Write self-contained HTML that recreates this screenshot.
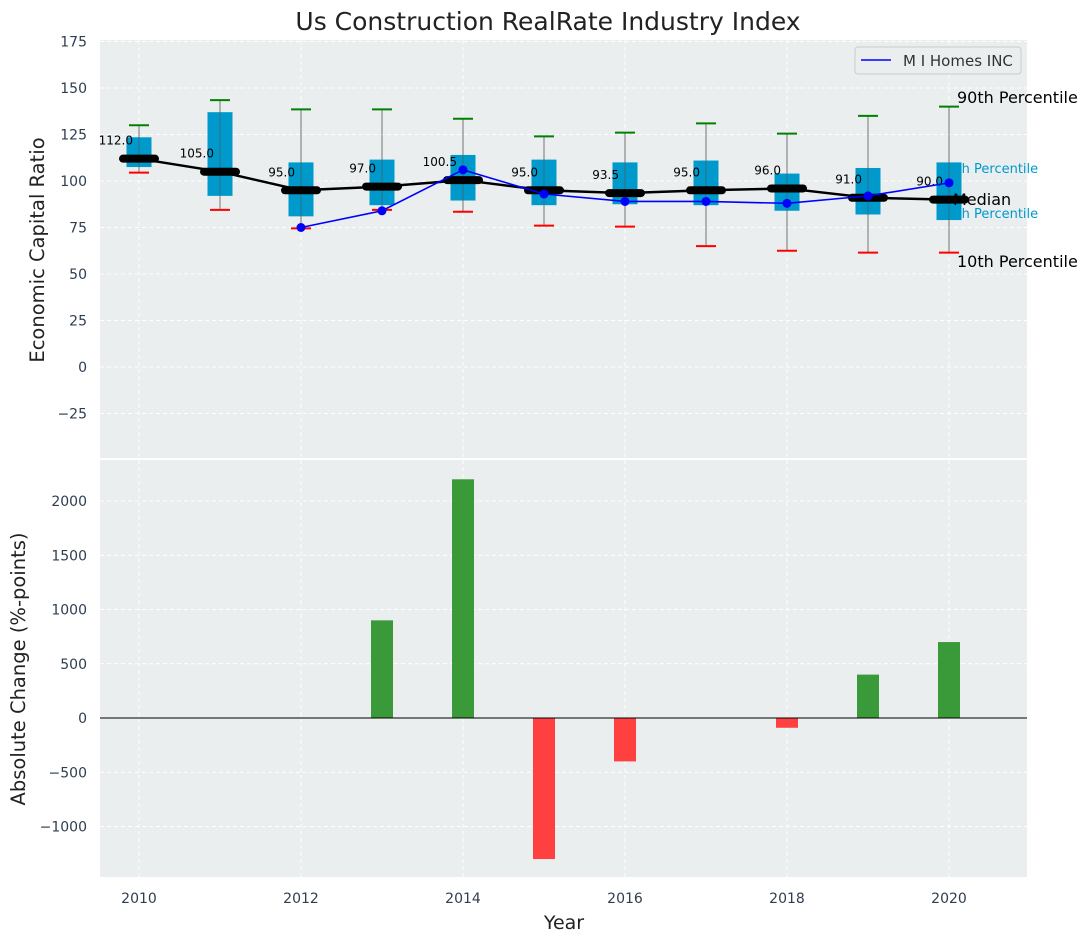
<!DOCTYPE html>
<html><head><meta charset="utf-8"><style>
body{margin:0;background:#fff;}
svg{display:block;font-family:"DejaVu Sans","Liberation Sans",sans-serif;}
</style></head><body>
<svg id="c" width="1092" height="942"></svg>
<script>
const years=[2010,2011,2012,2013,2014,2015,2016,2017,2018,2019,2020];
const p90=[130,143.5,138.5,138.5,133.5,124,126,131,125.5,135,140];
const p75=[123.5,137,110,111.5,114,111.5,110,111,104,107,110];
const p25=[107.5,92,81,87,89.5,87,87.5,87,84,82,79];
const p10=[104.5,84.5,74.5,84.5,83.5,76,75.5,65,62.5,61.5,61.5];
const medians=[112,105,95,97,100.5,95,93.5,95,96,91,90];
const miYears=[2012,2013,2014,2015,2016,2017,2018,2019,2020];
const miValues=[75,84,106,93,89,89,88,92,99];
const barYears=[2013,2014,2015,2016,2018,2019,2020];
const barValues=[900,2200,-1300,-400,-90,400,700];
const yTicksTop=[-25,0,25,50,75,100,125,150,175];
const yTicksBot=[-1000,-500,0,500,1000,1500,2000];
const xTicks=[2010,2012,2014,2016,2018,2020];

const NS="http://www.w3.org/2000/svg";
const svg=document.getElementById('c');
function el(t,a,p){const e=document.createElementNS(NS,t);for(const k in a)e.setAttribute(k,a[k]);(p||svg).appendChild(e);return e;}
const X=v=>139+(v-2010)*81;
const YT=v=>367-v*1.86;
const YB=v=>718-v*0.1085;
const L=100,R=1027;

let e=el('rect',{x:L,y:40,width:R-L,height:418,fill:'#eaeeee'});

e=el('rect',{x:L,y:460,width:R-L,height:417,fill:'#eaeeee'});


for(const t of xTicks){
  el('line',{x1:X(t),x2:X(t),y1:40,y2:458,stroke:'#fff','stroke-dasharray':'4,3','stroke-width':1});
  el('line',{x1:X(t),x2:X(t),y1:460,y2:877,stroke:'#fff','stroke-dasharray':'4,3','stroke-width':1});
  e=el('text',{x:X(t),y:903,'text-anchor':'middle','font-size':14,fill:'#2e3e50'});e.textContent=t;
  
}
for(const t of yTicksTop){
  el('line',{x1:L,x2:R,y1:YT(t),y2:YT(t),stroke:'#fff','stroke-dasharray':'4,3'});
  e=el('text',{x:87,y:YT(t)+5,'text-anchor':'end','font-size':14,fill:'#2e3e50'});e.textContent=t<0?'\u2212'+(-t):t;
  
}
for(const t of yTicksBot){
  el('line',{x1:L,x2:R,y1:YB(t),y2:YB(t),stroke:'#fff','stroke-dasharray':'4,3'});
  e=el('text',{x:87,y:YB(t)+5,'text-anchor':'end','font-size':14,fill:'#2e3e50'});e.textContent=t<0?'\u2212'+(-t):t;
  
}

function ann(txt,x,y,sz,col,name){const t=el('text',{x:x,y:y,'font-size':sz,fill:col});t.textContent=txt;}
ann('75th Percentile',940,173,13,'#0099cc','p75-annotation');
ann('25th Percentile',940,218,13,'#0099cc','p25-annotation');

years.forEach((y,i)=>{
  const x=X(y);
  let w=el('line',{x1:x,x2:x,y1:YT(p90[i]),y2:YT(p10[i]),stroke:'#777','stroke-width':1});
  
  let b=el('rect',{x:x-12.5,y:YT(p75[i]),width:25,height:YT(p25[i])-YT(p75[i]),fill:'#0099cc'});
  
  el('line',{x1:x,x2:x,y1:YT(p75[i]),y2:YT(p25[i]),stroke:'#555','stroke-width':1,opacity:0.6});
  let c=el('line',{x1:x-10,x2:x+10,y1:YT(p90[i]),y2:YT(p90[i]),stroke:'green','stroke-width':2});
  
  c=el('line',{x1:x-10,x2:x+10,y1:YT(p10[i]),y2:YT(p10[i]),stroke:'red','stroke-width':2});
  
});
let mp=el('polyline',{points:years.map((y,i)=>X(y)+','+YT(medians[i])).join(' '),fill:'none',stroke:'#000','stroke-width':2.5});

years.forEach((y,i)=>{
  let m=el('line',{x1:X(y)-16,x2:X(y)+16,y1:YT(medians[i]),y2:YT(medians[i]),stroke:'#000','stroke-width':8,'stroke-linecap':'round'});
  
  let t=el('text',{x:X(y)-6,y:YT(medians[i])-14,'text-anchor':'end','font-size':12,fill:'#000'});t.textContent=medians[i].toFixed(1);
  
});
let ml=el('polyline',{points:miYears.map((y,i)=>X(y)+','+YT(miValues[i])).join(' '),fill:'none',stroke:'blue','stroke-width':1.6});

miYears.forEach((y,i)=>{
  let p=el('circle',{cx:X(y),cy:YT(miValues[i]),r:4.5,fill:'blue'});
  
});
ann('90th Percentile',957,103,16,'#000','p90-annotation');
ann('Median',953,205,16,'#000','median-annotation');
ann('10th Percentile',957,267,16,'#000','p10-annotation');

let lg=el('g',{});
el('rect',{x:855,y:47,width:166,height:27,rx:3,fill:'#eaeeee',stroke:'#ccc'},lg);
el('line',{x1:861,x2:891,y1:60,y2:60,stroke:'blue','stroke-width':1.6},lg);
let lt=el('text',{x:903,y:66,'font-size':15,fill:'#333'},lg);lt.textContent='M I Homes INC';

barYears.forEach((y,i)=>{
  const v=barValues[i];
  let r=el('rect',{x:X(y)-11,y:Math.min(YB(v),YB(0)),width:22,height:Math.abs(YB(v)-YB(0)),fill:v>=0?'#3a9a3a':'#ff4040'});
  
});
el('line',{x1:L,x2:R,y1:YB(0),y2:YB(0),stroke:'#000','stroke-width':1});

let t=el('text',{x:548,y:30,'text-anchor':'middle','font-size':25,fill:'#222'});t.textContent='Us Construction RealRate Industry Index';

t=el('text',{x:44,y:250,'text-anchor':'middle','font-size':19.5,fill:'#222',transform:'rotate(-90 44 250)'});t.textContent='Economic Capital Ratio';

t=el('text',{x:25,y:669,'text-anchor':'middle','font-size':19.5,fill:'#222',transform:'rotate(-90 25 669)'});t.textContent='Absolute Change (%-points)';

t=el('text',{x:564,y:929,'text-anchor':'middle','font-size':19,fill:'#222'});t.textContent='Year';

</script>
</body></html>
